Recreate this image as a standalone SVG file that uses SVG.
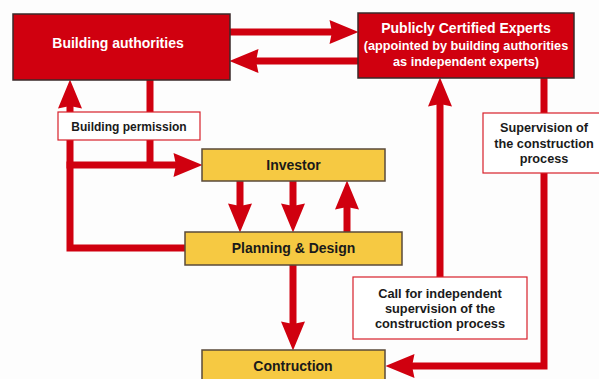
<svg xmlns="http://www.w3.org/2000/svg" width="599" height="379" viewBox="0 0 599 379">
<style>
.bg{fill:#fdfdfd}
.red{fill:#d0000f;stroke:#3a2a2a;stroke-width:1.5}
.yel{fill:#f6c942;stroke:#5a4a3a;stroke-width:1.5}
.lab{fill:#ffffff;stroke:#d8202a;stroke-width:1.2}
.wt{fill:#ffffff;font-family:"Liberation Sans",Arial,sans-serif;font-weight:bold;text-anchor:middle}
.bt{fill:#1a1a1a;font-family:"Liberation Sans",Arial,sans-serif;font-weight:bold;text-anchor:middle}
.c{fill:none;stroke:#d0000f;stroke-width:7}
</style>
<defs>
<marker id="ah" markerUnits="userSpaceOnUse" markerWidth="30" markerHeight="26" viewBox="-4 -13 30 26" refX="0" refY="0" orient="auto">
<path d="M-3,-12 L26,0 L-3,12 L-0.5,0 z" fill="#d0000f"/>
</marker>
</defs>
<rect class="bg" x="0" y="0" width="599" height="379"/>
<g id="connectors">
<path class="c" d="M230,32 H332.5" marker-end="url(#ah)"/>
<path class="c" d="M358,61 H255.5" marker-end="url(#ah)"/>
<path class="c" d="M150,80 V165"/>
<path class="c" d="M66.5,165 H176.5" marker-end="url(#ah)"/>
<path class="c" d="M185,248 H70 V105.5" marker-end="url(#ah)"/>
<path class="c" d="M240,181 V206.5" marker-end="url(#ah)"/>
<path class="c" d="M293,181 V206.5" marker-end="url(#ah)"/>
<path class="c" d="M347,232 V206.5" marker-end="url(#ah)"/>
<path class="c" d="M293,265 V324.5" marker-end="url(#ah)"/>
<path class="c" d="M440,277 V103.5" marker-end="url(#ah)"/>
<path class="c" d="M544,78 V366 H411.5" marker-end="url(#ah)"/>
</g>
<g id="building-authorities">
<rect class="red" x="13" y="14" width="217" height="66"/>
<text class="wt" x="118" y="48" font-size="14">Building authorities</text>
</g>
<g id="experts">
<rect class="red" x="358" y="13" width="216" height="65"/>
<text class="wt" x="466" y="33" font-size="14">Publicly Certified Experts</text>
<text class="wt" x="466" y="50" font-size="12.7">(appointed by building authorities</text>
<text class="wt" x="466" y="66" font-size="12.7">as independent experts)</text>
</g>
<g id="building-permission">
<rect class="lab" x="58" y="112" width="142" height="28"/>
<text class="bt" x="129" y="131" font-size="12">Building permission</text>
</g>
<g id="investor">
<rect class="yel" x="202" y="149" width="183" height="32"/>
<text class="bt" x="293.5" y="170" font-size="14">Investor</text>
</g>
<g id="planning">
<rect class="yel" x="185" y="232" width="217" height="33"/>
<text class="bt" x="293.5" y="253" font-size="14">Planning &amp; Design</text>
</g>
<g id="supervision">
<rect class="lab" x="483" y="113" width="120" height="60"/>
<text class="bt" x="544" y="132" font-size="12.7">Supervision of</text>
<text class="bt" x="544" y="148" font-size="12.7">the construction</text>
<text class="bt" x="544" y="163" font-size="12.7">process</text>
</g>
<g id="call">
<rect class="lab" x="353" y="277" width="174" height="62"/>
<text class="bt" x="440" y="298" font-size="12.8">Call for independent</text>
<text class="bt" x="440" y="313" font-size="12.8">supervision of the</text>
<text class="bt" x="440" y="328" font-size="12.8">construction process</text>
</g>
<g id="construction">
<rect class="yel" x="202" y="350" width="183" height="40"/>
<text class="bt" x="293" y="371" font-size="14">Contruction</text>
</g>
</svg>
